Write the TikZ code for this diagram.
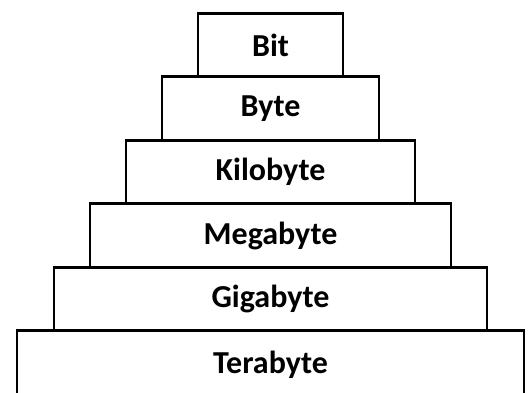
\documentclass[tikz,border=0pt]{standalone}
\usepackage{fontspec}
\setmainfont{Carlito}
\usetikzlibrary{positioning}
\begin{document}
\begin{tikzpicture}[x=1pt,y=1pt,
	layer/.style={draw,line width=2.8pt,outer sep=0pt,minimum height=63.5pt,
		font=\fontsize{32}{38}\selectfont\bfseries}]
	\clip (0,0) rectangle (531,-392);
	\node [layer,minimum width=145pt] (bit) at (270.5,-45) {Bit};
	\node [layer,minimum width=217pt,below=0pt of bit] (byte) {Byte};
	\node [layer,minimum width=289pt,below=0pt of byte] (kilo) {Kilobyte};
	\node [layer,minimum width=361pt,below=0pt of kilo] (mega) {Megabyte};
	\node [layer,minimum width=433pt,below=0pt of mega] (giga) {Gigabyte};
	% bottom tier runs off the page
	\node [layer,minimum width=507pt,minimum height=68pt,below=0pt of giga] (tera) {Terabyte};
\end{tikzpicture}
\end{document}
